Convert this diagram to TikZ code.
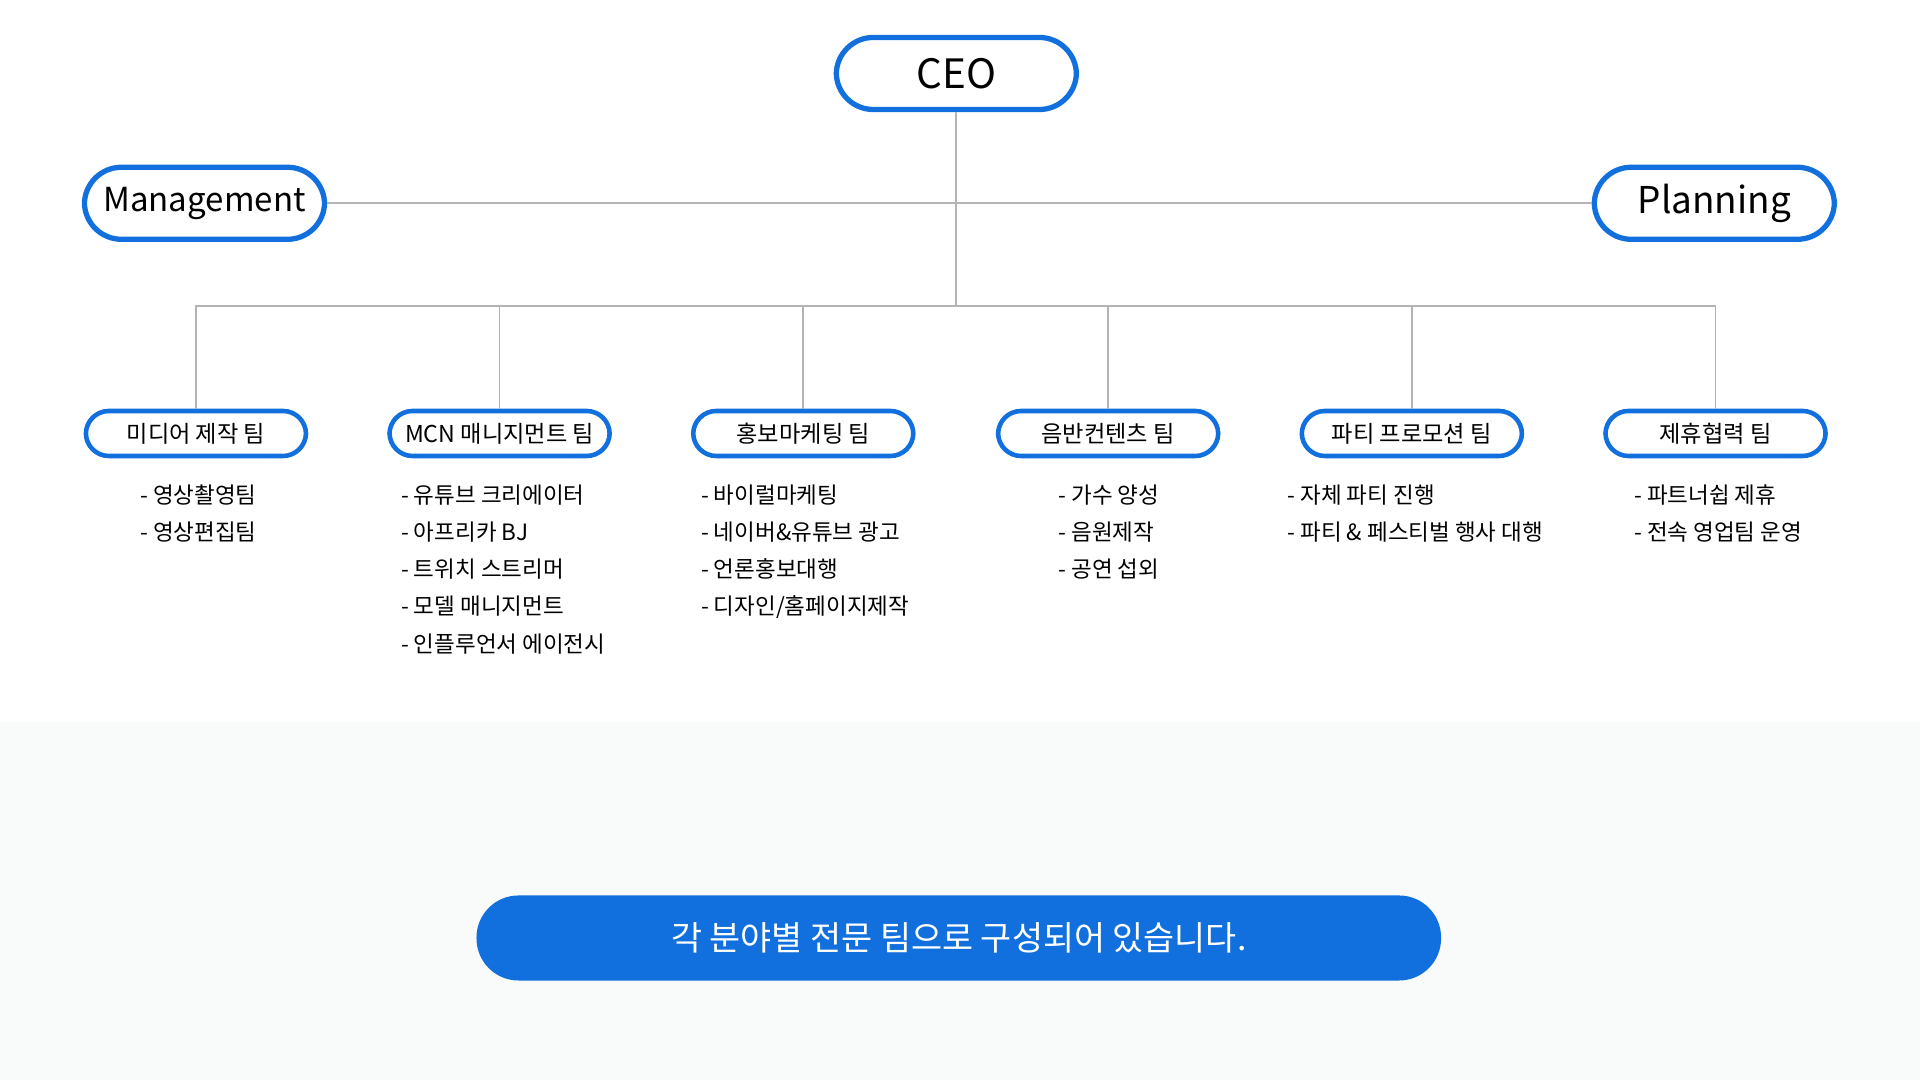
\documentclass[tikz,border=0pt]{standalone}
\usepackage{fontspec}
\setmainfont{Noto Sans CJK KR}
\usetikzlibrary{positioning}
\definecolor{mainblue}{HTML}{1170DD}
\definecolor{linegray}{HTML}{B4B4B4}
\definecolor{lightbg}{HTML}{F9FBFB}
\tikzset{
  topbox/.style={draw=mainblue,line width=1.5pt,fill=white,rounded corners=0.37cm,
    minimum width=2.4cm,minimum height=0.72cm,inner sep=0pt,font=\fontsize{11.5}{13}\selectfont},
  teambox/.style={draw=mainblue,line width=1.3pt,fill=white,rounded corners=0.23cm,
    minimum width=2.2cm,minimum height=0.45cm,inner sep=0pt,font=\fontsize{6.6}{8}\selectfont},
  list/.style={anchor=north west,align=left,inner sep=0pt,
    font=\fontsize{6.4}{10.6}\selectfont},
  link/.style={draw=linegray,line width=0.5pt},
}
\begin{document}
\begin{tikzpicture}[x=0.012245cm,y=-0.012245cm]
\useasboundingbox (0,0) rectangle (1568,882);
\fill[lightbg] (0,590) rectangle (1568,882);

\node[topbox](ceo) at (781,60) {CEO};
\node[topbox,font=\fontsize{9.4}{11}\selectfont](mgmt) at (167,166) {Management};
\node[topbox,font=\fontsize{10.5}{12}\selectfont](plan) at (1400,166) {Planning};

\coordinate (bus) at (781,250);
\draw[link] (ceo.south) -- (bus);
\draw[link] (mgmt.east) -- (plan.west);

\node[teambox](media) at (160,354) {미디어 제작 팀};
\node[teambox](mcn) at (408,354) {MCN 매니지먼트 팀};
\node[teambox](promo) at (656,354) {홍보마케팅 팀};
\node[teambox](music) at (905,354) {음반컨텐츠 팀};
\node[teambox](party) at (1153,354) {파티 프로모션 팀};
\node[teambox](partner) at (1401,354) {제휴협력 팀};

\draw[link] (media.north) |- (bus) -| (partner.north);
\foreach \t in {mcn,promo,music,party}
  \draw[link] (\t.north) -- (\t.north |- bus);

\node[list](l1) at (114,395) {- 영상촬영팀\\- 영상편집팀};
\node[list](l2) at (327,395) {- 유튜브 크리에이터\\- 아프리카 BJ\\- 트위치 스트리머\\- 모델 매니지먼트\\- 인플루언서 에이전시};
\node[list](l3) at (572,395) {- 바이럴마케팅\\- 네이버\&유튜브 광고\\- 언론홍보대행\\- 디자인/홈페이지제작};
\node[list](l4) at (864,395) {- 가수 양성\\- 음원제작\\- 공연 섭외};
\node[list](l5) at (1051,395) {- 자체 파티 진행\\- 파티 \& 페스티벌 행사 대행};
\node[list](l6) at (1334,395) {- 파트너쉽 제휴\\- 전속 영업팀 운영};

\node[fill=mainblue,rounded corners=0.42cm,minimum width=9.64cm,minimum height=0.85cm,
  text=white,font=\fontsize{9.6}{12}\selectfont](banner) at (783,766)
  {각 분야별 전문 팀으로 구성되어 있습니다.};
\end{tikzpicture}
\end{document}
